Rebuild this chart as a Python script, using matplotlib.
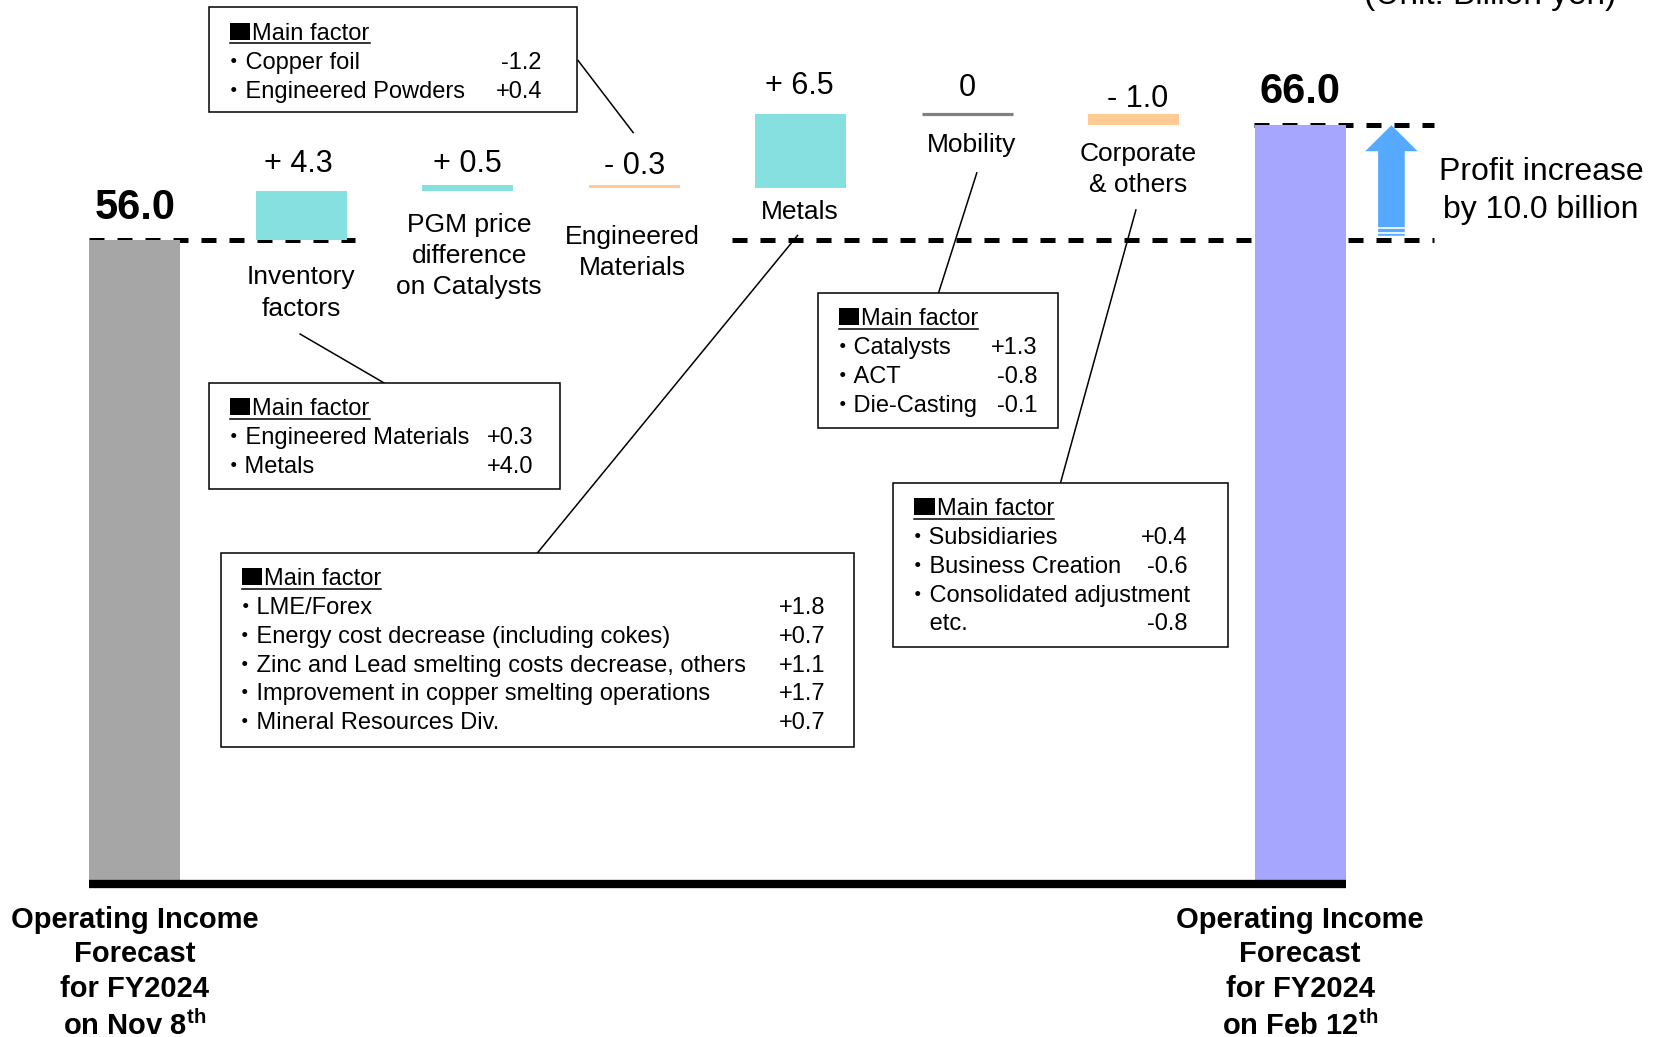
import numpy as np
import matplotlib.pyplot as plt
from matplotlib.patches import Rectangle, FancyArrow
from matplotlib.lines import Line2D
from matplotlib.font_manager import FontProperties

plt.rcParams['font.family'] = ['Liberation Sans', 'Noto Sans CJK JP', 'DejaVu Sans']
plt.rcParams['mathtext.fontset'] = 'custom'
plt.rcParams['mathtext.rm'] = 'Liberation Sans'
plt.rcParams['mathtext.bf'] = 'Liberation Sans:bold'

# ---- data (billion yen) ----
start_value = 56.0
end_value = 66.0
start_label = "Operating Income\nForecast\nfor FY2024\non Nov 8$^{\\mathbf{th}}$"
end_label = "Operating Income\nForecast\nfor FY2024\non Feb 12$^{\\mathbf{th}}$"
categories = ["Inventory\nfactors", "PGM price\ndifference\non Catalysts",
              "Engineered\nMaterials", "Metals", "Mobility", "Corporate\n& others"]
changes = [4.3, 0.5, -0.3, 6.5, 0.0, -1.0]
unit_text = "(Unit: Billion yen)"
increase_text = "Profit increase\nby 10.0 billion"

# main factor boxes
inv_items = ["Engineered Materials", "Metals"]
inv_vals = ["+0.3", "+4.0"]
eng_items = ["Copper foil", "Engineered Powders"]
eng_vals = ["-1.2", "+0.4"]
met_items = ["LME/Forex", "Energy cost decrease (including cokes)",
             "Zinc and Lead smelting costs decrease, others",
             "Improvement in copper smelting operations", "Mineral Resources Div."]
met_vals = ["+1.8", "+0.7", "+1.1", "+1.7", "+0.7"]
mob_items = ["Catalysts", "ACT", "Die-Casting"]
mob_vals = ["+1.3", "-0.8", "-0.1"]
corp_items = ["Subsidiaries", "Business Creation", "Consolidated adjustment\netc."]
corp_vals = ["+0.4", "-0.6", "-0.8"]

# colours
c_start = '#A6A6A6'
c_end = '#A6A6FF'
c_up = '#86E0DF'
c_down = '#FFCA94'
c_zero = '#808080'
c_arrow = '#55AAFF'

W, H = 1663, 1037
fig = plt.figure(figsize=(W / 100, H / 100), dpi=100)
ax = fig.add_axes([0, 0, 1, 1])
ax.axis('off')
ax.set_xlim(-0.809, 9.179)
ax.set_ylim(-13.62, 76.94)


def F(x, y):
    # reference pixel (shrunk 1568x978 view) -> figure fraction
    return x / 1568, 1 - y / 977.8


w = 0.548
levels = start_value + np.concatenate([[0], np.cumsum(changes)])

# dashed reference lines
dash = dict(color='black', lw=3.6, ls=(0, (3, 2.6)), zorder=0.5)
ax.plot([-0.274, 1.325], [start_value, start_value], **dash)
ax.plot([3.586, 7.803], [start_value, start_value], **dash)
ax.plot([6.72, 7.803], [end_value, end_value], **dash)

# bars
ax.bar(0, start_value, width=w, color=c_start, zorder=1)
ax.bar(7, end_value, width=w, color=c_end, zorder=1)
for i, ch in enumerate(changes):
    if ch > 0:
        ax.bar(i + 1, ch, bottom=levels[i], width=w, color=c_up, zorder=1)
    elif ch < 0:
        ax.bar(i + 1, ch, bottom=levels[i], width=w, color=c_down, zorder=1)
    else:
        ax.bar(i + 1, 0, bottom=levels[i], width=w, color='none',
               edgecolor=c_zero, lw=2.3, zorder=1)

# baseline
ax.plot([-w / 2, 7 + w / 2], [-0.3, -0.3], color='black', lw=6,
        solid_capstyle='butt', zorder=2)

# value labels
val_dy = [13, 9.5, 8, 14, 13, 5]
val_dx = [-2, 0, 0, -1, 0, 3]
cat_dy = [-18.5, -16.2, -26.2, -8.5, -14.1, -12.1]
cat_dx = [0, 1, -1, -1, 3.5, 3]
for i, ch in enumerate(changes):
    top = max(levels[i], levels[i + 1])
    bot = min(levels[i], levels[i + 1])
    if ch > 0:
        txt = "+ %.1f" % ch
    elif ch < 0:
        txt = "- %.1f" % abs(ch)
    else:
        txt = "0"
    ax.annotate(txt, (i + 1, top), xytext=(val_dx[i], val_dy[i]),
                textcoords='offset points', ha='center', va='baseline', fontsize=22)
    ax.annotate(categories[i], (i + 1, bot), xytext=(cat_dx[i], cat_dy[i]),
                textcoords='offset points', ha='center', va='top', fontsize=19,
                multialignment='center', linespacing=1.38)

ax.annotate("%.1f" % start_value, (0, start_value), xytext=(0, 15),
            textcoords='offset points', ha='center', va='baseline',
            fontsize=30, fontweight='bold')
ax.annotate("%.1f" % end_value, (7, end_value), xytext=(0, 16),
            textcoords='offset points', ha='center', va='baseline',
            fontsize=30, fontweight='bold')
ax.annotate(start_label, (0, 0), xytext=(0, -18), textcoords='offset points',
            ha='center', va='top', fontsize=21, fontweight='bold',
            multialignment='center', linespacing=1.29)
ax.annotate(end_label, (7, 0), xytext=(0, -18), textcoords='offset points',
            ha='center', va='top', fontsize=21, fontweight='bold',
            multialignment='center', linespacing=1.29)

# profit increase arrow
ax_x = 7.548
ax.add_patch(FancyArrow(ax_x, start_value + 0.35, 0, end_value - start_value - 0.35,
                        width=0.16, head_width=0.315, head_length=2.27,
                        length_includes_head=True, color=c_arrow, lw=0, zorder=2))
for yy in [start_value + 0.6, start_value + 1.0]:
    ax.plot([ax_x - 0.08, ax_x + 0.08], [yy, yy], color='white', lw=1.2, zorder=3)

fig.text(*F(1453, 180), increase_text, ha='center', va='center', fontsize=23,
         linespacing=1.35)
fig.text(1405 / 1568, 1 - 4 / H, unit_text, ha='center', va='baseline', fontsize=24)

renderer = fig.canvas.get_renderer()
box_fs = 17
box_prop = FontProperties(family=['Liberation Sans'], size=box_fs)
# matplotlib lays out a text line using the descent of "lp"
_, _, desc = renderer.get_text_width_height_descent("lp", box_prop, ismath=False)
cap = 0.716 * box_fs * 100 / 72


def factor_box(left, top, right, bottom, items, vals, val_right):
    x0, y0 = F(left, bottom)
    x1, y1 = F(right, top)
    fig.add_artist(Rectangle((x0, y0), x1 - x0, y1 - y0, transform=fig.transFigure,
                             fill=True, fc='white', ec='black', lw=1.1, zorder=3))
    # header: black square + underlined "Main factor"
    hx, hy = F(left + 20, top + 25)
    sq_w = cap * 1.2
    t = fig.text(hx + (sq_w + 2) / W, hy, "Main factor", fontsize=box_fs,
                 ha='left', va='center', zorder=4)
    bb = t.get_window_extent(renderer=renderer)
    base = bb.y0 + desc
    fig.add_artist(Rectangle((hx, base / H), sq_w / W, cap / H,
                             transform=fig.transFigure, color='black', lw=0, zorder=4))
    uy = (base - 3.5) / H
    fig.add_artist(Line2D([hx, bb.x1 / W], [uy, uy],
                          transform=fig.transFigure, color='black', lw=1.1, zorder=4))
    k = 1
    for item, v in zip(items, vals):
        parts = item.split("\n")
        for j, p in enumerate(parts):
            prefix = "・" if j == 0 else "\u3000"
            ix, iy = F(left + 12, top + 25 + 27.2 * k)
            fig.text(ix, iy, prefix + p, fontsize=box_fs, ha='left', va='center', zorder=4)
            if j == len(parts) - 1:
                vx, _ = F(val_right, 0)
                fig.text(vx, iy, v, fontsize=box_fs, ha='right', va='center', zorder=4)
            k += 1


def leader(xa, ya, xb, yb):
    (x0, y0), (x1, y1) = F(xa, ya), F(xb, yb)
    fig.add_artist(Line2D([x0, x1], [y0, y1], transform=fig.transFigure,
                          color='black', lw=1.1, zorder=2))


leader(545, 57, 597, 125)
leader(283, 315, 362, 361)
leader(507, 521, 752, 222)
leader(885, 276, 921, 163)
leader(1000, 455, 1071, 198)

factor_box(197, 7, 544, 106, eng_items, eng_vals, 511)
factor_box(197, 361, 528, 461, inv_items, inv_vals, 503)
factor_box(208, 521, 805, 704, met_items, met_vals, 778)
factor_box(771, 276, 998, 404, mob_items, mob_vals, 978)
factor_box(842, 455, 1158, 610, corp_items, corp_vals, 1120)

fig.savefig('out.png', dpi=100)
